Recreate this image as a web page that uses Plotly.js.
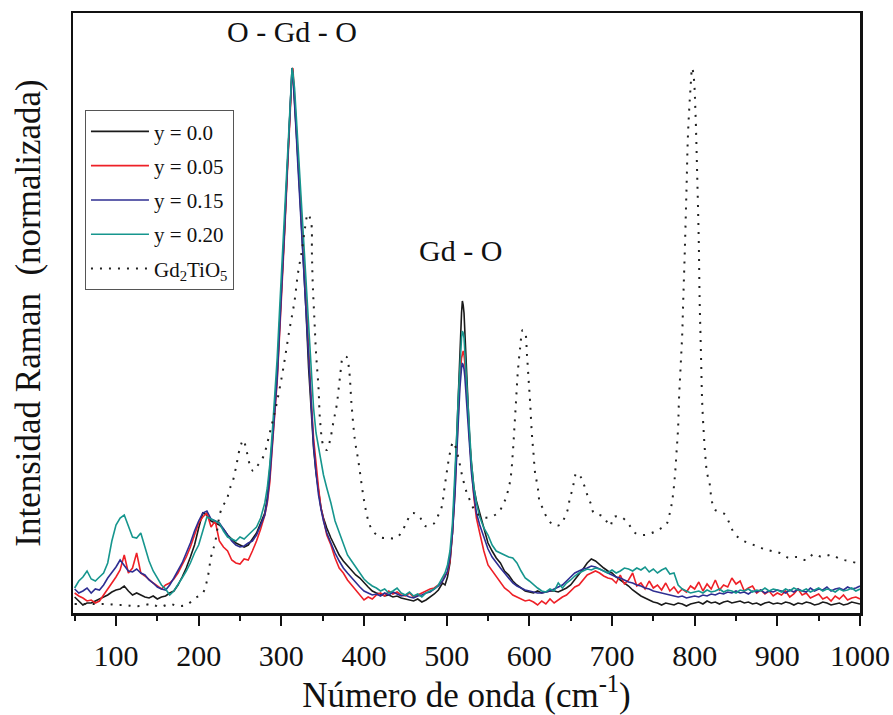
<!DOCTYPE html>
<html>
<head>
<meta charset="utf-8">
<script src="https://cdn.plot.ly/plotly-3.0.1.min.js"></script>
<style>html,body{margin:0;padding:0;background:#fff;}#chart{width:893px;height:715px;}</style>
</head>
<body>
<div id="chart"></div>
<script>
// Raman shift (cm-1) shared by the four sample spectra
const shift = [
 50,55,60,65,70,75,80,85,90,95,100,105,110,115,120,125,130,135,140,145,150,155,160,165,170,175,180,185,190,195,200,205,210,215,220,225,230,235,240,245,250,255,260,265,270,275,280,
 283,286,289,292,295,298,301,304,307,310,312,313,314,316,318,320,322,324,326,328,330,333,336,339,342,345,348,351,355,
 360,365,370,375,380,385,390,395,400,405,410,415,420,425,430,435,440,445,450,455,460,465,470,475,480,485,490,495,
 498,501,504,507,510,512,514,516,518,519,520,521,522,524,526,528,530,533,536,540,545,
 550,555,560,565,570,575,580,585,590,595,600,605,610,615,620,625,630,635,640,645,650,655,660,665,670,675,680,685,690,695,
 700,705,710,715,720,725,730,735,740,745,750,755,760,765,770,775,780,785,790,795,800,805,810,815,820,825,830,835,840,845,
 850,855,860,865,870,875,880,885,890,895,900,905,910,915,920,925,930,935,940,945,950,955,960,965,970,975,980,985,990,995,1000
];

// Normalized Raman intensity (arbitrary units) for each composition
const y000 = [
 16,12,8,10,10,12,14,16,18,21, 23,24,27,22,18,20,18,16,15,17, 14,16,17,20,22,28,36,45,56,68, 85,100,98,92,90,88,84,78,74,70, 68,66,68,74,80,90,100,
 115,140,172,205,240,290,335,385,440,493, 530,545,540,515,485,455,425,395,365,335, 300,245,200,165,140,120,105,95,85,
 75,66,58,52,47,42,38,35,30,26, 22,20,19,17,18,16,17,15,14,13, 12,14,11,13,16,19,23,30,
 28,36,50,80,130,175,220,265,300,312,308,300,280,240,200,170,150,125,112,100,85,
 70,62,55,50,42,38,32,28,25,22, 21,20,22,20,21,22,22,21,23,25, 28,33,38,44,50,54,52,48,45,42,
 40,36,33,30,27,23,20,17,15,13, 11,10,8,10,9,8,10,9,7,9, 10,11,9,12,10,11,9,11,12,10,
 11,12,10,11,9,10,8,10,11,9, 10,9,11,10,8,10,9,11,10,8, 9,11,10,8,9,10,8,9,11,10, 9
];
const y005 = [
 20,17,15,12,13,10,12,18,23,30, 36,43,58,40,45,60,40,37,33,30, 27,24,28,30,34,40,48,56,66,78, 90,96,100,86,92,72,66,62,53,50, 49,54,53,62,72,84,98,
 110,130,165,198,232,280,325,380,435,490, 528,540,545,518,490,460,430,400,372,345, 315,262,215,175,148,125,105,92,78,
 68,55,45,40,33,28,22,18,13,16, 14,18,20,17,22,19,21,18,17,20, 16,18,20,22,24,25,28,32,
 38,40,52,80,120,160,200,235,255,260,262,258,250,225,195,170,145,115,95,80,62,
 48,42,36,30,25,22,18,16,14,12, 13,11,8,12,9,14,10,13,16,18, 22,26,28,33,38,40,42,40,37,35,
 34,30,38,29,33,40,27,30,24,32, 25,28,23,30,22,26,20,24,21,27, 24,31,22,29,24,33,23,28,26,35,
 29,32,22,25,27,20,23,19,22,17, 20,18,22,16,19,24,18,20,15,17, 19,14,16,12,17,14,18,13,15,16, 14
];
const y015 = [
 24,20,22,25,20,24,23,28,35,40, 46,53,47,42,41,44,40,38,33,30, 26,24,23,28,35,42,50,60,70,82, 92,100,102,94,92,90,84,78,72,68, 66,67,70,72,78,88,98,
 112,135,168,200,235,285,330,385,440,492, 532,545,538,512,480,448,418,390,360,330, 300,245,205,168,140,118,104,92,80,
 70,60,52,45,40,35,30,26,22,20, 18,19,17,20,18,21,19,17,18,16, 15,17,18,20,21,24,27,32,
 36,42,55,80,118,155,192,225,245,250,248,244,236,212,185,160,140,118,100,88,75,
 64,56,50,45,40,35,30,27,25,23, 22,21,20,20,21,22,24,26,28,32, 36,40,42,44,45,47,46,44,42,40,
 38,36,35,33,31,30,28,27,25,24, 22,21,20,19,18,17,16,17,15,16, 17,16,18,17,19,18,20,19,21,20,
 22,20,21,19,22,21,23,20,22,21, 23,22,20,23,21,24,22,21,25,22, 24,23,26,22,24,25,23,26,24,25, 27
];
const y020 = [
 25,32,36,42,34,32,36,40,50,72, 88,95,98,86,76,75,80,66,52,42, 35,28,24,18,22,28,35,42,50,60, 68,82,96,94,92,90,82,76,74,72, 76,74,78,82,86,95,110,
 125,148,180,215,255,305,355,405,460,505, 535,545,540,525,498,470,440,412,385,358, 330,285,245,205,180,165,152,138,125,
 110,92,80,68,58,52,46,40,34,30, 27,25,22,24,20,22,25,20,18,21, 17,19,16,20,22,24,28,35,
 40,48,62,90,135,175,215,250,275,282,280,275,262,232,200,175,150,125,110,96,85,
 78,68,62,60,58,56,55,50,42,35, 32,28,25,22,21,24,22,30,25,30, 33,37,40,42,44,43,45,44,42,40,
 43,40,42,45,44,42,45,43,46,41, 44,40,43,45,39,40,28,24,22,20, 21,22,20,23,21,22,24,21,23,22,
 20,23,22,24,21,23,22,25,22,24, 23,21,24,22,25,23,22,24,21,23, 25,22,24,23,21,24,22,23,25,22, 24
];

// Gd2TiO5 reference spectrum
const gdX = [
 50,60,70,80,90,100,110,120,130,143,153,165,175,185,196,205,211,215,220,226,
 230,234,237,241,245,250,254,258,262,266,270,278,286,294,302,310,316,320,325,329,
 332,336,337,338,340,342,345,347,351,355,359,363,367,371,375,379,382,385,389,393,
 400,405,410,419,429,439,447,452,459,468,474,484,490,494,497,500,502,504,508,514,
 518,524,528,533,542,552,562,568,572,577,580,582,584,586,589,592,595,597,599,601,
 603,605,607,609,611,612,616,621,629,637,643,647,649,652,654,657,663,667,671,675,
 678,688,694,698,702,711,720,728,738,748,758,766,770,773,776,778,780,781,783,785,
 786,788,790,792,795,797,799,801,803,805,806,807,808,809,811,813,815,818,821,825,
 836,842,847,855,865,875,884,893,903,914,924,935,944,954,965,976,986,996,1000
];
const gdY = [
 9,9,9,9,9,8,8,7,7,9,6,9,7,8,15,20,36,56,71,100,
 108,113,123,131,145,165,173,162,148,142,146,156,180,208,243,284,312,339,363,387,
 399,391,360,329,294,260,225,191,167,163,173,191,208,236,256,256,243,208,173,153,
 113,93,83,76,75,75,83,92,100,95,87,89,98,106,123,140,151,160,171,156,
 140,121,113,104,96,96,100,108,116,133,160,186,213,240,266,283,280,260,235,210,
 180,160,140,131,121,113,105,96,88,88,96,105,115,123,131,140,135,126,116,108,
 100,97,91,87,96,96,89,80,78,80,84,89,100,113,136,160,186,213,246,280,
 308,360,420,480,525,545,535,500,440,370,313,280,246,213,180,156,140,130,111,103,
 99,90,81,74,70,67,64,62,60,55,56,53,59,56,58,54,52,50,49
];

const seriesNames = ['y = 0.0', 'y = 0.05', 'y = 0.15', 'y = 0.20', 'Gd<sub>2</sub>TiO<sub>5</sub>'];
const seriesColors = ['#1a1a1a', '#ee2027', '#2e2e92', '#16968e', '#222222'];
const xTicks = [100,200,300,400,500,600,700,800,900,1000];

const serif = 'Liberation Serif, Times New Roman, serif';
const ys = [y000, y005, y015, y020];
const traces = ys.map((v, i) => ({
  x: shift, y: v, type: 'scatter', mode: 'lines', name: seriesNames[i],
  legendgroup: 'g' + i,
  line: {color: seriesColors[i], width: 1.6}
}));
traces.push({
  x: gdX, y: gdY, type: 'scatter', mode: 'lines', name: seriesNames[4],
  legendgroup: 'g4',
  line: {color: seriesColors[4], width: 2, dash: '2px,7px', shape: 'spline'}
});

const layout = {
  width: 893, height: 715,
  margin: {l: 73, r: 33, t: 13, b: 102},
  paper_bgcolor: '#fff', plot_bgcolor: '#fff',
  font: {family: serif, color: '#111'},
  showlegend: true,
  legend: {
    x: 0.0152, y: 0.838, xanchor: 'left', yanchor: 'top',
    bordercolor: '#555', borderwidth: 1, bgcolor: '#fff',
    font: {family: serif, size: 21, color: '#111'},
    tracegroupgap: 4, itemwidth: 58
  },
  xaxis: {
    range: [48, 1000], tickmode: 'array', tickvals: xTicks,
    ticks: 'outside', ticklen: 10, tickwidth: 2, tickcolor: '#111',
    minor: {dtick: 50, tick0: 0, ticks: 'outside', ticklen: 5, tickwidth: 2, tickcolor: '#111'},
    showline: true, linewidth: 2.5, linecolor: '#111', mirror: true,
    showgrid: false, zeroline: false,
    tickfont: {family: serif, size: 30, color: '#111'},
    ticklabelstandoff: 4,
    title: {text: 'Número de onda (cm<sup>-1</sup>)', font: {family: serif, size: 35, color: '#111'}, standoff: 10}
  },
  xaxis2: {
    overlaying: 'x', side: 'top', range: [48, 1000], dtick: 50, tick0: 0,
    ticks: 'inside', ticklen: 4, tickwidth: 1, tickcolor: '#999',
    showticklabels: false, showgrid: false, zeroline: false, showline: false
  },
  yaxis: {
    range: [0, 600], showticklabels: false, ticks: '',
    showline: true, linewidth: 2.5, linecolor: '#111', mirror: true,
    showgrid: false, zeroline: false,
    title: {text: 'Intensidad Raman  (normalizada)', font: {family: serif, size: 35, color: '#111'}, standoff: 20}
  },
  annotations: [
    {x: 313, y: 582, xref: 'x', yref: 'y', text: 'O - Gd - O', showarrow: false,
     font: {family: serif, size: 30, color: '#111'}},
    {x: 517, y: 363, xref: 'x', yref: 'y', text: 'Gd - O', showarrow: false,
     font: {family: serif, size: 30, color: '#111'}}
  ]
};

Plotly.newPlot('chart', traces, layout, {displayModeBar: false, staticPlot: true});
</script>
</body>
</html>
